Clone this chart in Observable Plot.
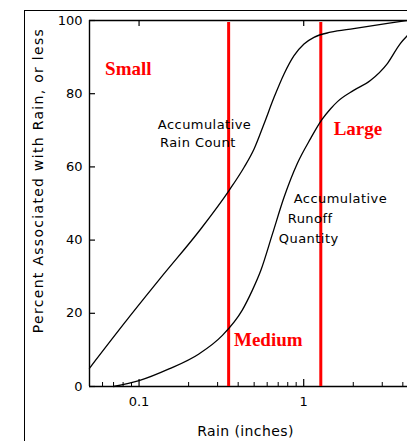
<!DOCTYPE html>
<html><head><meta charset="utf-8">
<script src="https://cdn.jsdelivr.net/npm/d3@7"></script>
<script src="https://cdn.jsdelivr.net/npm/@observablehq/plot@0.6"></script>
<style>
html,body{margin:0;padding:0;background:#fff;overflow:hidden;}
#wrap{position:relative;width:407px;height:441px;overflow:hidden;}
#frame{position:absolute;left:24px;top:10px;width:600px;height:600px;border-left:1px solid #000;border-top:1px solid #000;pointer-events:none;}
</style></head><body><div id="wrap"><div id="frame"></div></div>
<script>
// Accumulative Rain Count (upper curve)
const rainX = [0.05, 0.0858, 0.136, 0.2376, 0.3526, 0.4346, 0.4995, 0.5745, 0.6607, 0.7596, 0.8733, 1.004, 1.154, 1.457, 2.01, 3.23, 4.27];
const rainY = [5, 18.6, 29.8, 43.1, 53.6, 59.9, 64.9, 71.8, 79.0, 85.4, 90.4, 93.6, 95.4, 96.8, 97.8, 99.2, 100];
// Accumulative Runoff Quantity (lower curve)
const runoffX = [0.07, 0.1, 0.152, 0.231, 0.3196, 0.4226, 0.4864, 0.5487, 0.6461, 0.7596, 0.9158, 1.1025, 1.289, 1.457, 1.61, 2.01, 2.54, 3.23, 3.86, 4.27];
const runoffY = [0, 1.6, 4.8, 8.9, 13.9, 20.8, 26.2, 31.7, 41.7, 51.7, 61.0, 67.8, 72.9, 75.9, 77.9, 80.9, 83.6, 88.3, 93.7, 95.9];
// Class boundaries (inches)
const boundaries = [0.35, 1.27];
// Class labels
const classNames = ["Small", "Medium", "Large"];
const classX = [0.0622, 0.377, 1.52];
const classY = [86.9, 12.6, 70.5];
// Curve annotations
const noteText = ["Accumulative", "Rain Count", "Accumulative", "Runoff", "Quantity"];
const noteX = [0.130, 0.134, 0.869, 0.80, 0.706];
const noteY = [71.6, 66.7, 51.4, 45.9, 40.4];
// Ticks
const yTicks = [0, 20, 40, 60, 80, 100];
const xMajor = [0.1, 1];
const xMinor = [0.06, 0.07, 0.08, 0.09, 0.2, 0.3, 0.4, 0.5, 0.6, 0.7, 0.8, 0.9, 2, 3, 4];
const xTitle = "Rain (inches)";
const yTitle = "Percent Associated with Rain, or less";

const rain = rainX.map((x, i) => ({x, y: rainY[i]}));
const runoff = runoffX.map((x, i) => ({x, y: runoffY[i]}));
const classes = classNames.map((t, i) => ({t, x: classX[i], y: classY[i]}));
const notes = noteText.map((t, i) => ({t, x: noteX[i], y: noteY[i]}));

const W = 407, H = 441, ML = 89, MR = 0, MT = 20, MB = 55;
const plotW = W - ML - MR, plotH = H - MT - MB;

const chart = Plot.plot({
  width: W, height: H,
  marginLeft: ML, marginRight: MR, marginTop: MT, marginBottom: MB,
  style: {fontFamily: "DejaVu Sans", fontSize: "13px", color: "#000", background: "#fff"},
  x: {type: "log", domain: [0.05, 4.27], axis: null},
  y: {domain: [0, 100], axis: null},
  marks: [
    Plot.axisY(yTicks, {anchor: "left", tickSize: 0, tickPadding: 7, label: null, fontSize: 13}),
    Plot.axisX(xMajor, {anchor: "bottom", tickSize: 0, tickPadding: 10, label: null, fontSize: 13, tickFormat: d => String(d)}),
    Plot.ruleY(yTicks, {insetRight: plotW - 6, strokeWidth: 1.2}),
    Plot.ruleX(xMajor, {insetTop: plotH - 7, strokeWidth: 1.2}),
    Plot.ruleX(xMinor, {insetTop: plotH - 4, strokeWidth: 1}),
    Plot.ruleX(xMajor, {insetBottom: plotH - 6, strokeWidth: 1.2}),
    Plot.ruleY([0, 100], {strokeWidth: 1.4}),
    Plot.ruleX([0.05], {strokeWidth: 1.4}),
    Plot.ruleX(boundaries, {stroke: "#ff0000", strokeWidth: 3, insetTop: 2}),
    Plot.line(rain, {x: "x", y: "y", curve: "monotone-x", stroke: "#000", strokeWidth: 1.3}),
    Plot.line(runoff, {x: "x", y: "y", curve: "monotone-x", stroke: "#000", strokeWidth: 1.3}),
    Plot.text(notes, {x: "x", y: "y", text: "t", textAnchor: "start", fontSize: 13, fill: "#000"}),
    Plot.text(classes, {x: "x", y: "y", text: "t", textAnchor: "start", fontSize: 19, fontWeight: "bold", fontFamily: "Liberation Serif", fill: "#ff0000"}),
    Plot.text([yTitle], {frameAnchor: "left", dx: -51, dy: -23, rotate: -90, fontSize: 14, textAnchor: "middle", lineAnchor: "middle"}),
    Plot.text([xTitle], {frameAnchor: "bottom", dx: -3, dy: 45, fontSize: 14, textAnchor: "middle", lineAnchor: "middle"})
  ]
});
// letter spacing tweaks to mimic the wide original lettering
const spacing = new Map([[yTitle, "1.3px"], [xTitle, "0.4px"], ["Accumulative", "0.45px"], ["Rain Count", "0.45px"], ["Runoff", "0.45px"], ["Quantity", "0.45px"]]);
d3.select(chart).selectAll("text").each(function() {
  const s = spacing.get(this.textContent);
  if (s) this.style.letterSpacing = s;
});
document.getElementById("wrap").insertBefore(chart, document.getElementById("frame"));
</script>
</body></html>
